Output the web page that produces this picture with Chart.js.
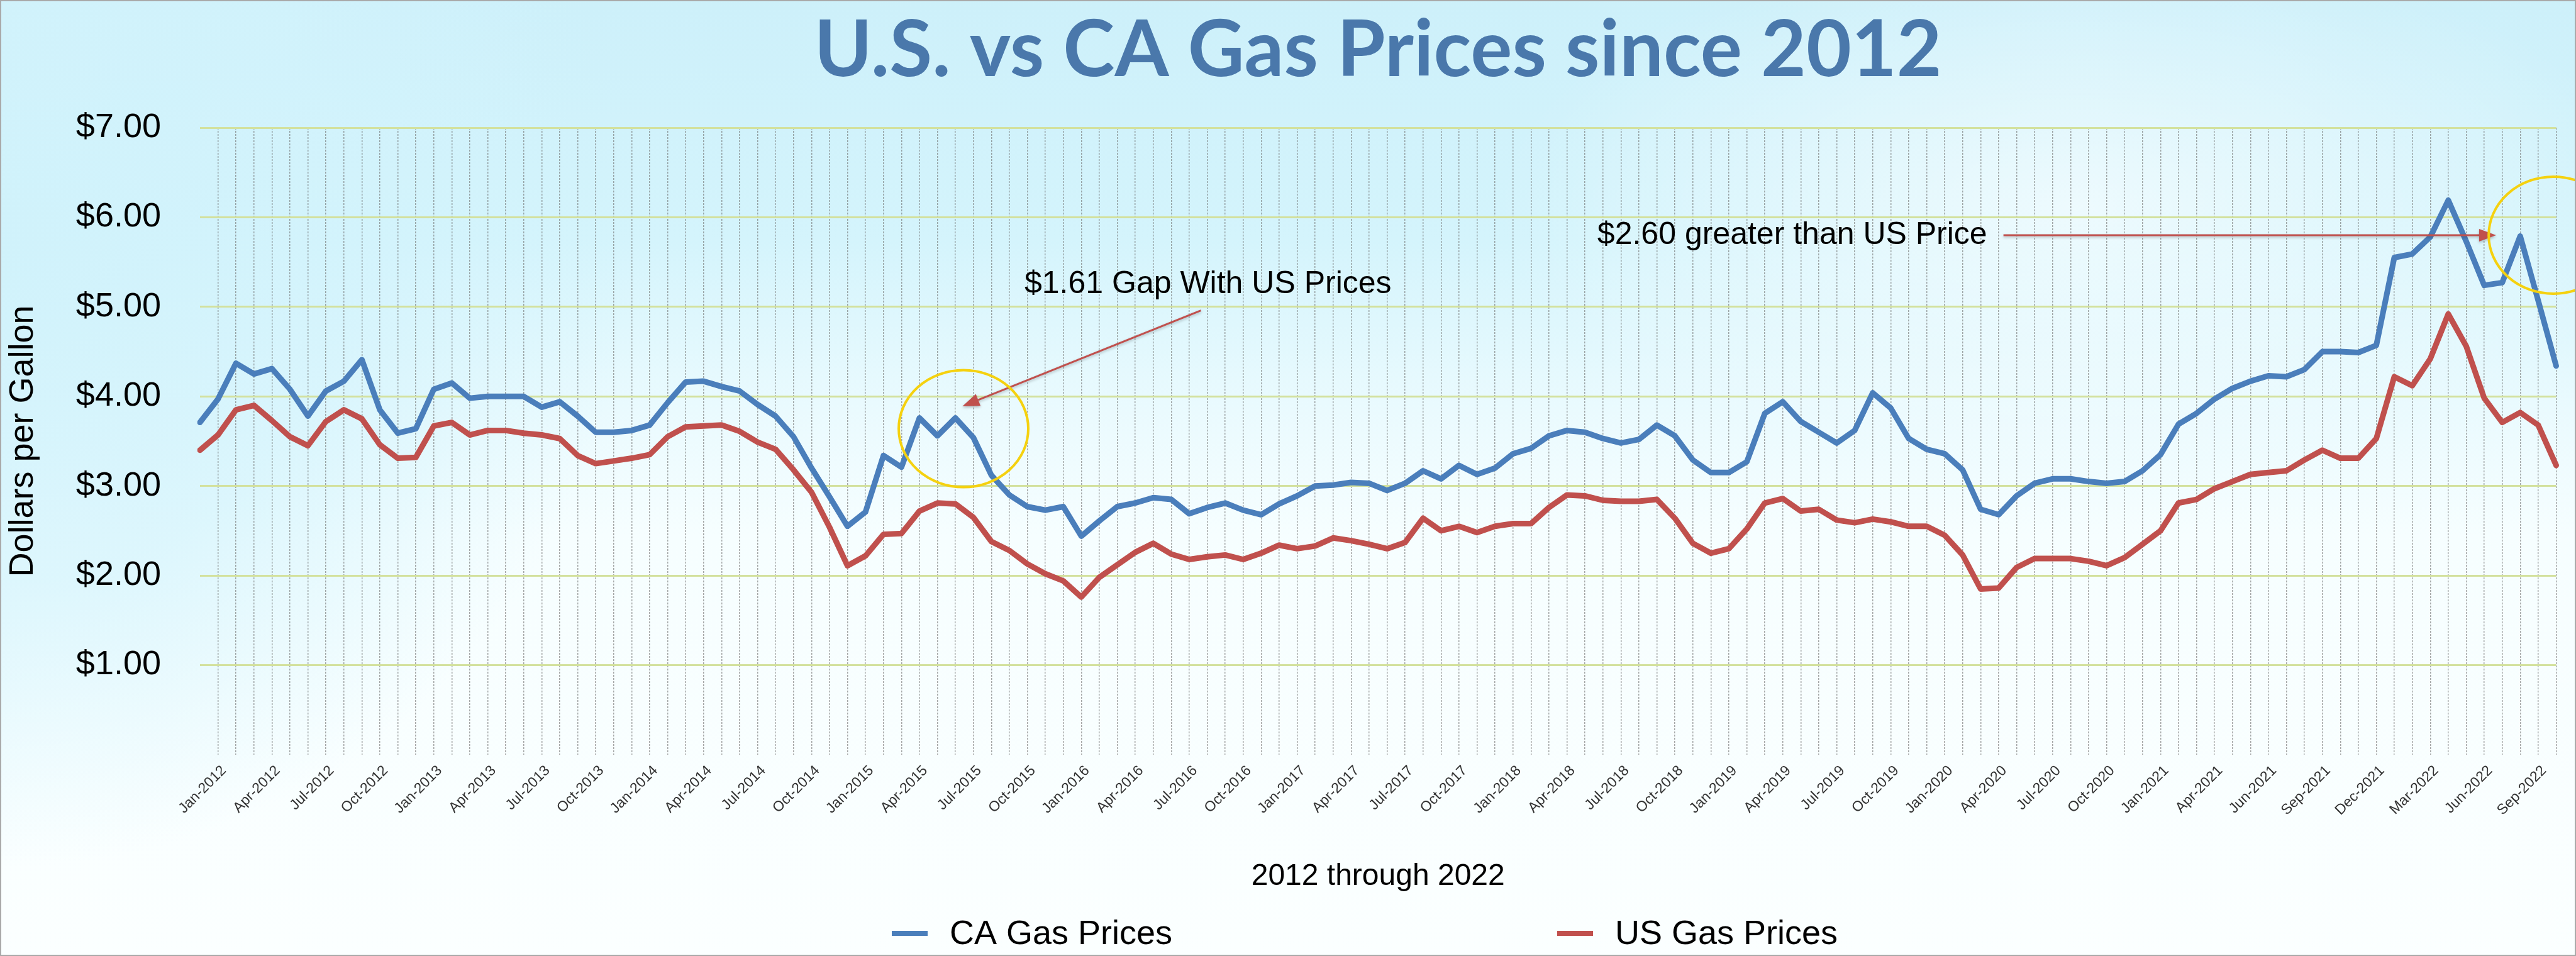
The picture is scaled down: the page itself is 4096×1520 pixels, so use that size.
<!DOCTYPE html>
<html>
<head>
<meta charset="utf-8">
<title>U.S. vs CA Gas Prices since 2012</title>
<script src="https://cdn.jsdelivr.net/npm/chart.js@4.4.1/dist/chart.umd.min.js"></script>
<style>
  html, body { margin: 0; padding: 0; background: #fff; }
  #wrap { width: 4096px; height: 1520px; }
</style>
</head>
<body>
<div id="wrap"><canvas id="gasChart" width="4096" height="1520"></canvas></div>
<script>
// monthly averages, Jan 2012 .. Dec 2022
const monthNames = ['Jan', 'Feb', 'Mar', 'Apr', 'May', 'Jun', 'Jul', 'Aug', 'Sep', 'Oct', 'Nov', 'Dec'];
const years = [2012, 2013, 2014, 2015, 2016, 2017, 2018, 2019, 2020, 2021, 2022];

// labels shown on every third month (the sheet slips a month in 2021)
const tickLabels = [
  'Jan-2012', 'Apr-2012', 'Jul-2012', 'Oct-2012',
  'Jan-2013', 'Apr-2013', 'Jul-2013', 'Oct-2013',
  'Jan-2014', 'Apr-2014', 'Jul-2014', 'Oct-2014',
  'Jan-2015', 'Apr-2015', 'Jul-2015', 'Oct-2015',
  'Jan-2016', 'Apr-2016', 'Jul-2016', 'Oct-2016',
  'Jan-2017', 'Apr-2017', 'Jul-2017', 'Oct-2017',
  'Jan-2018', 'Apr-2018', 'Jul-2018', 'Oct-2018',
  'Jan-2019', 'Apr-2019', 'Jul-2019', 'Oct-2019',
  'Jan-2020', 'Apr-2020', 'Jul-2020', 'Oct-2020',
  'Jan-2021', 'Apr-2021', 'Jun-2021', 'Sep-2021',
  'Dec-2021', 'Mar-2022', 'Jun-2022', 'Sep-2022'
];

const caPrices = [
  3.71, 3.97, 4.37, 4.25, 4.31, 4.08, 3.78, 4.06, 4.17, 4.41, 3.85, 3.59,
  3.64, 4.08, 4.15, 3.98, 4.00, 4.00, 4.00, 3.88, 3.94, 3.78, 3.60, 3.60,
  3.62, 3.68, 3.93, 4.16, 4.17, 4.11, 4.06, 3.91, 3.78, 3.55, 3.20, 2.88,
  2.55, 2.71, 3.34, 3.21, 3.76, 3.56, 3.76, 3.54, 3.12, 2.90, 2.77, 2.73,
  2.77, 2.44, 2.61, 2.77, 2.81, 2.87, 2.85, 2.69, 2.76, 2.81, 2.73, 2.68,
  2.80, 2.89, 3.00, 3.01, 3.04, 3.03, 2.95, 3.03, 3.17, 3.08, 3.23, 3.13,
  3.20, 3.36, 3.42, 3.56, 3.62, 3.60, 3.53, 3.48, 3.52, 3.68, 3.56, 3.29,
  3.15, 3.15, 3.27, 3.81, 3.94, 3.72, 3.60, 3.48, 3.62, 4.04, 3.87, 3.53,
  3.41, 3.36, 3.18, 2.74, 2.68, 2.89, 3.03, 3.08, 3.08, 3.05, 3.03, 3.05,
  3.17, 3.35, 3.69, 3.81, 3.97, 4.09, 4.17, 4.23, 4.22, 4.30, 4.50, 4.50,
  4.49, 4.57, 5.55, 5.59, 5.78, 6.19, 5.73, 5.24, 5.27, 5.79, 5.07, 4.34
];

const usPrices = [
  3.40, 3.57, 3.85, 3.90, 3.73, 3.55, 3.45, 3.72, 3.85, 3.75, 3.46, 3.31,
  3.32, 3.67, 3.71, 3.57, 3.62, 3.62, 3.59, 3.57, 3.53, 3.34, 3.25, 3.28,
  3.31, 3.35, 3.55, 3.66, 3.67, 3.68, 3.61, 3.49, 3.41, 3.18, 2.93, 2.54,
  2.11, 2.22, 2.46, 2.47, 2.72, 2.81, 2.80, 2.65, 2.38, 2.28, 2.13, 2.02,
  1.94, 1.76, 1.98, 2.12, 2.26, 2.36, 2.24, 2.18, 2.21, 2.23, 2.18, 2.25,
  2.34, 2.30, 2.33, 2.42, 2.39, 2.35, 2.30, 2.37, 2.64, 2.50, 2.55, 2.48,
  2.55, 2.58, 2.58, 2.76, 2.90, 2.89, 2.84, 2.83, 2.83, 2.85, 2.64, 2.36,
  2.25, 2.30, 2.52, 2.81, 2.86, 2.72, 2.74, 2.62, 2.59, 2.63, 2.60, 2.55,
  2.55, 2.45, 2.23, 1.85, 1.86, 2.09, 2.19, 2.19, 2.19, 2.16, 2.11, 2.20,
  2.35, 2.50, 2.81, 2.85, 2.97, 3.05, 3.13, 3.15, 3.17, 3.29, 3.40, 3.31,
  3.31, 3.53, 4.22, 4.12, 4.42, 4.92, 4.56, 3.98, 3.71, 3.82, 3.68, 3.23
];

const categories = [];
years.forEach(y => monthNames.forEach(m => categories.push(m + '-' + y)));

const FONT = "'Liberation Sans', Arial, sans-serif";
const BLUE = '#4a7ebb';
const RED = '#c0504d';

// page background + thin frame
const backdrop = {
  id: 'backdrop',
  beforeDraw(chart) {
    const { ctx, width, height } = chart;
    ctx.save();
    const g = ctx.createLinearGradient(0, 0, 0, height);
    g.addColorStop(0, '#cdf0fa');
    g.addColorStop(0.25, '#d4f4fc');
    g.addColorStop(0.42, '#e9fafe');
    g.addColorStop(0.56, '#f6feff');
    g.addColorStop(1, '#fbffff');
    ctx.fillStyle = g;
    ctx.fillRect(0, 0, width, height);

    // blue runs lower on the left side
    let r = ctx.createRadialGradient(0, 380, 0, 0, 380, 1000);
    r.addColorStop(0, 'rgba(208,242,251,0.95)');
    r.addColorStop(0.55, 'rgba(210,243,252,0.7)');
    r.addColorStop(1, 'rgba(210,243,252,0)');
    ctx.fillStyle = r;
    ctx.fillRect(0, 0, width, height);

    // whiter swoosh on the upper right
    ctx.translate(3300, 330);
    ctx.scale(2.2, 1);
    r = ctx.createRadialGradient(0, 0, 0, 0, 0, 420);
    r.addColorStop(0, 'rgba(255,255,255,0.6)');
    r.addColorStop(1, 'rgba(255,255,255,0)');
    ctx.fillStyle = r;
    ctx.beginPath();
    ctx.arc(0, 0, 420, 0, Math.PI * 2);
    ctx.fill();
    ctx.restore();
  },
  afterDraw(chart) {
    const { ctx, width, height } = chart;
    ctx.save();
    ctx.strokeStyle = '#a9a9a9';
    ctx.lineWidth = 2;
    ctx.strokeRect(1, 1, width - 2, height - 2);
    ctx.restore();
  }
};

function arrow(ctx, x1, y1, x2, y2) {
  const a = Math.atan2(y2 - y1, x2 - x1);
  const len = 27, half = 10;
  const bx = x2 - len * Math.cos(a), by = y2 - len * Math.sin(a);
  ctx.beginPath();
  ctx.moveTo(x1, y1);
  ctx.lineTo(bx, by);
  ctx.stroke();
  ctx.beginPath();
  ctx.moveTo(x2, y2);
  ctx.lineTo(bx + half * Math.sin(a), by - half * Math.cos(a));
  ctx.lineTo(bx - half * Math.sin(a), by + half * Math.cos(a));
  ctx.closePath();
  ctx.fill();
}

// callouts, placed in data units (month index, dollars)
const notes = {
  id: 'notes',
  afterDatasetsDraw(chart) {
    const { ctx, scales: { x, y } } = chart;
    ctx.save();
    ctx.font = '50px ' + FONT;
    ctx.fillStyle = '#000';
    ctx.textBaseline = 'middle';
    ctx.textAlign = 'left';
    ctx.fillText('$1.61 Gap With US Prices', x.getPixelForValue(45.84), y.getPixelForValue(5.25));
    ctx.fillText('$2.60 greater than US Price', x.getPixelForValue(77.69), y.getPixelForValue(5.80));

    ctx.strokeStyle = RED;
    ctx.fillStyle = RED;
    ctx.lineWidth = 3;
    ctx.shadowColor = 'rgba(0,0,0,0.25)';
    ctx.shadowBlur = 4;
    ctx.shadowOffsetY = 2;
    arrow(ctx, x.getPixelForValue(55.65), y.getPixelForValue(4.96), x.getPixelForValue(42.39), y.getPixelForValue(3.89));
    arrow(ctx, x.getPixelForValue(100.27), y.getPixelForValue(5.80), x.getPixelForValue(127.66), y.getPixelForValue(5.80));
    ctx.shadowColor = 'transparent';

    ctx.strokeStyle = '#f5d10f';
    ctx.lineWidth = 4;
    [[42.45, 3.64], [130.85, 5.80]].forEach(([i, v]) => {
      ctx.beginPath();
      ctx.ellipse(x.getPixelForValue(i), y.getPixelForValue(v), 103, 93, 0, 0, Math.PI * 2);
      ctx.stroke();
    });
    ctx.restore();
  }
};

// legend row under the axis title
const legendRow = {
  id: 'legendRow',
  afterDraw(chart) {
    const { ctx } = chart;
    const starts = [1418, 2476];
    const yMid = 1484;
    ctx.save();
    ctx.font = '54px ' + FONT;
    ctx.textBaseline = 'middle';
    ctx.textAlign = 'left';
    chart.data.datasets.forEach((ds, i) => {
      const x0 = starts[i];
      ctx.strokeStyle = ds.borderColor;
      ctx.lineWidth = 8;
      ctx.beginPath();
      ctx.moveTo(x0, yMid);
      ctx.lineTo(x0 + 57, yMid);
      ctx.stroke();
      ctx.fillStyle = '#000';
      ctx.fillText(ds.label, x0 + 92, yMid + 2);
    });
    ctx.restore();
  }
};

const ctx = document.getElementById('gasChart').getContext('2d');
new Chart(ctx, {
  type: 'line',
  data: {
    labels: categories,
    datasets: [
      {
        label: 'CA Gas Prices',
        data: caPrices,
        borderColor: BLUE,
        backgroundColor: BLUE,
        borderWidth: 9,
        pointRadius: 0,
        tension: 0,
        borderJoinStyle: 'round',
        borderCapStyle: 'round'
      },
      {
        label: 'US Gas Prices',
        data: usPrices,
        borderColor: RED,
        backgroundColor: RED,
        borderWidth: 9,
        pointRadius: 0,
        tension: 0,
        borderJoinStyle: 'round',
        borderCapStyle: 'round'
      }
    ]
  },
  options: {
    responsive: false,
    animation: false,
    devicePixelRatio: 1,
    layout: { padding: { left: 0, right: 14, top: 0, bottom: 90 } },
    plugins: {
      legend: { display: false },
      tooltip: { enabled: false },
      title: {
        display: true,
        fullSize: false,
        text: 'U.S. vs CA Gas Prices since 2012',
        color: '#4a78ab',
        font: { family: "Lato, 'Open Sans', sans-serif", weight: 'bold', size: 124, lineHeight: 1 },
        padding: { top: 19, bottom: 60 }
      }
    },
    scales: {
      x: {
        offset: false,
        grid: {
          color: c => c.index === 0 ? 'rgba(0,0,0,0)' : 'rgba(110,110,110,0.6)',
          lineWidth: 1.5,
          drawTicks: false
        },
        border: { display: false, dash: [3, 2] },
        ticks: {
          autoSkip: false,
          maxRotation: 45,
          minRotation: 45,
          padding: 12,
          labelOffset: 38,
          color: '#333',
          font: { family: FONT, size: 23 },
          callback: (v, i) => i % 3 === 0 ? tickLabels[i / 3] : ''
        },
        title: {
          display: true,
          text: '2012 through 2022',
          color: '#000',
          font: { family: FONT, size: 48 },
          padding: { top: 0, bottom: 7 }
        },
        afterFit: s => { s.height = 230; }
      },
      y: {
        min: 0,
        max: 7,
        grid: {
          color: c => c.tick.value === 0 ? 'rgba(0,0,0,0)' : '#d3e19e',
          lineWidth: 3,
          drawTicks: false
        },
        border: { display: false },
        ticks: {
          stepSize: 1,
          padding: 62,
          color: '#000',
          font: { family: FONT, size: 54 },
          callback: v => v === 0 ? '' : '$' + v.toFixed(2)
        },
        title: {
          display: true,
          text: 'Dollars per Gallon',
          color: '#000',
          font: { family: FONT, size: 54 },
          padding: { top: 5, bottom: 0 }
        },
        afterFit: s => { s.width = 318; }
      }
    }
  },
  plugins: [backdrop, notes, legendRow]
});
</script>
</body>
</html>
